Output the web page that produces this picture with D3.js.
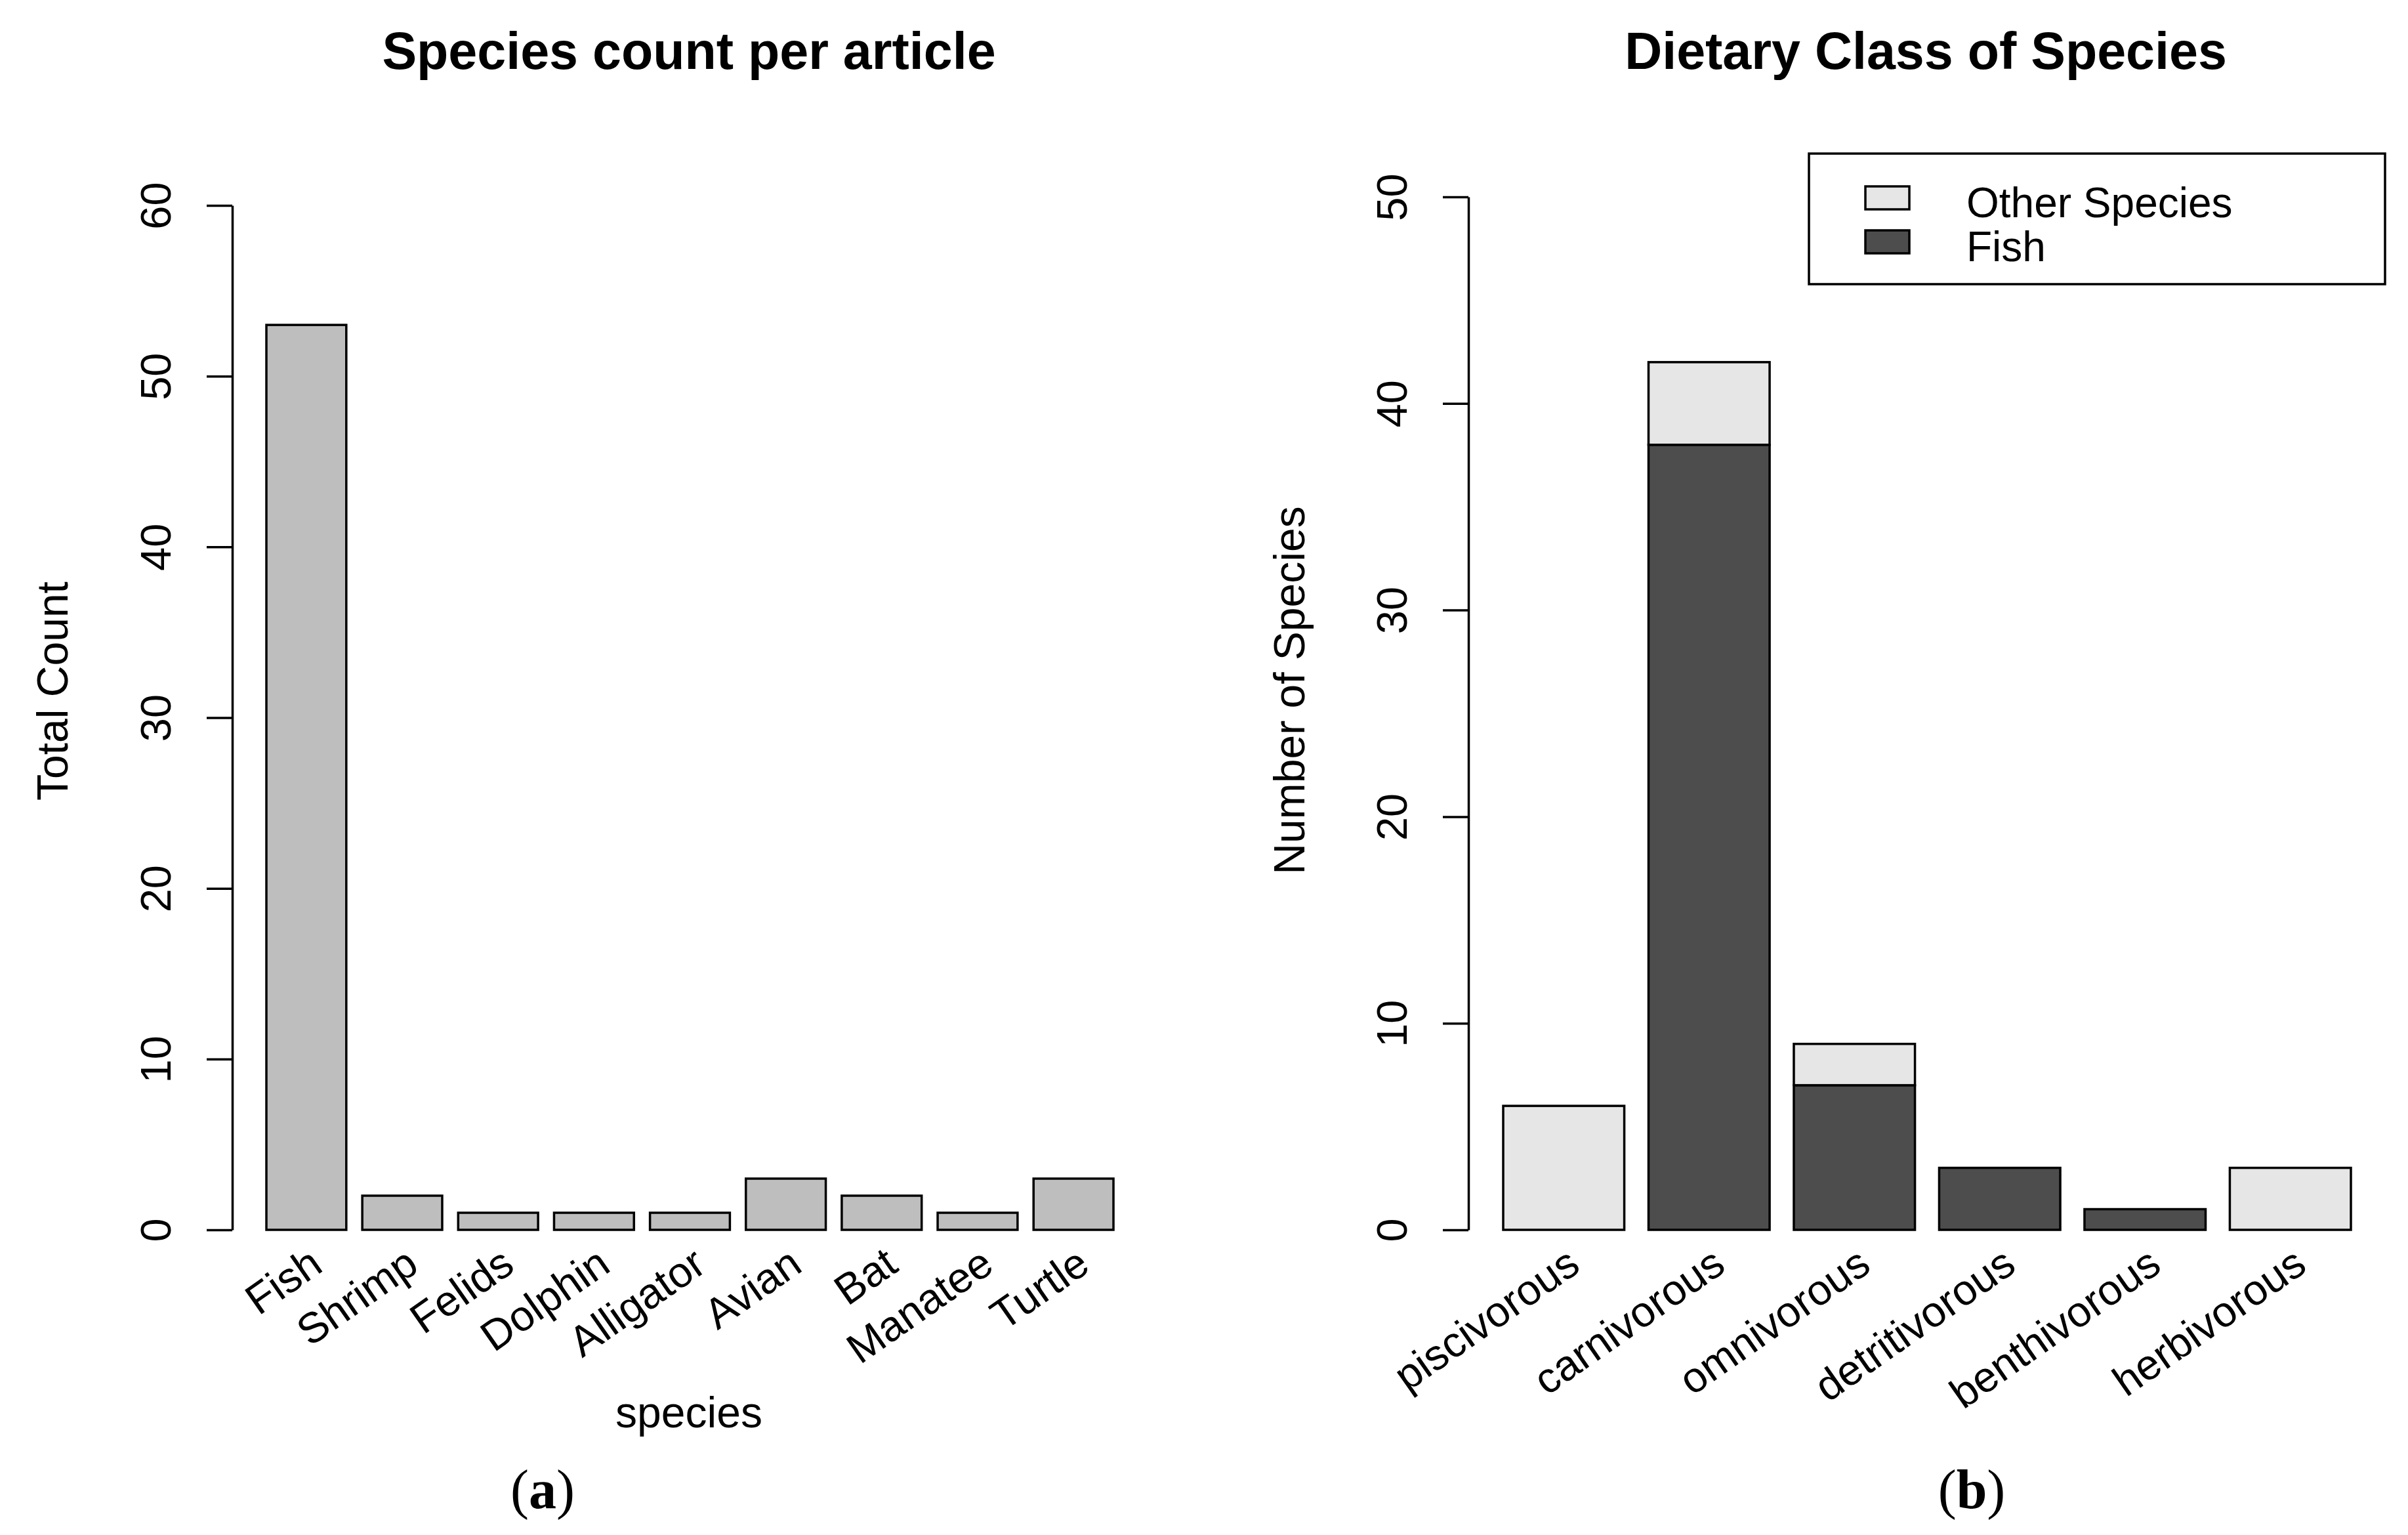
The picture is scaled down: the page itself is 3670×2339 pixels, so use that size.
<!DOCTYPE html>
<html>
<head>
<meta charset="utf-8">
<script src="https://cdn.jsdelivr.net/npm/d3@7"></script>
<style>
  body { margin: 0; background: #fff; }
  text { font-family: "Liberation Sans", Arial, sans-serif; fill: #000; }
  .serif { font-family: "Liberation Serif", "Times New Roman", serif; }
</style>
</head>
<body>
<div id="chart"></div>
<script>
// panel (a): species counted per article
var speciesNames = ["Fish", "Shrimp", "Felids", "Dolphin", "Alligator", "Avian", "Bat", "Manatee", "Turtle"];
var speciesCounts = [53, 2, 1, 1, 1, 3, 2, 1, 3];
var countTicks = [0, 10, 20, 30, 40, 50, 60];

// panel (b): dietary class, stacked fish / other species
var dietClasses = ["piscivorous", "carnivorous", "omnivorous", "detritivorous", "benthivorous", "herbivorous"];
var fishCounts = [0, 38, 7, 3, 1, 0];
var otherCounts = [6, 4, 2, 0, 0, 3];
var dietTicks = [0, 10, 20, 30, 40, 50];
var seriesKeys = ["Fish", "Other Species"];
var legendOrder = ["Other Species", "Fish"];

var W = 3670, H = 2339;
var fontSize = 65;
var lineW = 3.5;
var seriesFill = {"Fish": "#4D4D4D", "Other Species": "#E6E6E6"};

var svg = d3.select("#chart").append("svg")
    .attr("width", W)
    .attr("height", H)
    .attr("viewBox", "0 0 " + W + " " + H);

svg.append("rect").attr("width", W).attr("height", H).attr("fill", "#fff");

// R style y axis: line from first to last tick, labels turned parallel to axis
var drawYAxis = function(g, y, ticks) {
    g.call(d3.axisLeft(y).tickValues(ticks).tickSize(39).tickSizeOuter(0).tickFormat(d3.format("d")));
    g.select(".domain").attr("stroke", "#000").attr("stroke-width", lineW);
    g.selectAll(".tick line").attr("stroke", "#000").attr("stroke-width", lineW);
    g.selectAll(".tick text")
        .attr("x", null).attr("dy", null)
        .attr("fill", "#000")
        .attr("font-size", fontSize)
        .attr("font-family", "Liberation Sans, Arial, sans-serif")
        .attr("text-anchor", "middle")
        .attr("dominant-baseline", "central")
        .attr("transform", "translate(-117,0) rotate(-90)");
};

var drawXLabels = function(g, x, names) {
    g.selectAll("text.xlab")
        .data(names)
        .enter().append("text")
        .attr("class", "xlab")
        .attr("font-size", fontSize)
        .attr("text-anchor", "end")
        .attr("transform", function(d) {
            return "translate(" + (x(d) + x.bandwidth() / 2 + 28) + ",1935) rotate(-35)";
        })
        .text(function(d) { return d; });
};

var panelLabel = function(cx, letter) {
    var t = svg.append("text")
        .attr("class", "serif")
        .attr("x", cx)
        .attr("y", 2298)
        .attr("font-size", 84)
        .attr("text-anchor", "middle");
    t.append("tspan").text("(");
    t.append("tspan").attr("font-weight", "bold").text(letter);
    t.append("tspan").text(")");
};

// ---------- panel (a) ----------
var xA = d3.scaleBand().domain(speciesNames).range([406, 1697]).paddingInner(1 / 6).paddingOuter(0);
var yA = d3.scaleLinear().domain([0, 60]).range([1874, 313]);
var gA = svg.append("g");

gA.selectAll("rect.bar")
    .data(speciesNames)
    .enter().append("rect")
    .attr("class", "bar")
    .attr("x", function(d) { return xA(d); })
    .attr("width", xA.bandwidth())
    .attr("y", function(d, i) { return yA(speciesCounts[i]); })
    .attr("height", function(d, i) { return yA(0) - yA(speciesCounts[i]); })
    .attr("fill", "#BEBEBE")
    .attr("stroke", "#000")
    .attr("stroke-width", lineW);

drawYAxis(gA.append("g").attr("transform", "translate(354,0)"), yA, countTicks);
drawXLabels(gA, xA, speciesNames);

gA.append("text").attr("x", 1050).attr("y", 105)
    .attr("font-size", 79).attr("font-weight", "bold").attr("text-anchor", "middle")
    .text("Species count per article");
gA.append("text").attr("x", 1050).attr("y", 2175)
    .attr("font-size", 66).attr("text-anchor", "middle")
    .text("species");
gA.append("text")
    .attr("transform", "translate(80,1053) rotate(-90)")
    .attr("font-size", 66).attr("text-anchor", "middle").attr("dominant-baseline", "central")
    .text("Total Count");
panelLabel(827, "a");

// ---------- panel (b) ----------
var dietRows = dietClasses.map(function(c, i) {
    return {klass: c, "Fish": fishCounts[i], "Other Species": otherCounts[i]};
});
var stacked = d3.stack().keys(seriesKeys)(dietRows);

var xB = d3.scaleBand().domain(dietClasses).range([2291, 3583]).paddingInner(1 / 6).paddingOuter(0);
var yB = d3.scaleLinear().domain([0, 50]).range([1874, 300]);
var gB = svg.append("g");

gB.selectAll("g.layer")
    .data(stacked)
    .enter().append("g")
    .attr("class", "layer")
    .attr("fill", function(s) { return seriesFill[s.key]; })
    .selectAll("rect")
    .data(function(s) { return s.filter(function(p) { return p[1] > p[0]; }); })
    .enter().append("rect")
    .attr("x", function(p) { return xB(p.data.klass); })
    .attr("width", xB.bandwidth())
    .attr("y", function(p) { return yB(p[1]); })
    .attr("height", function(p) { return yB(p[0]) - yB(p[1]); })
    .attr("stroke", "#000")
    .attr("stroke-width", lineW);

drawYAxis(gB.append("g").attr("transform", "translate(2238,0)"), yB, dietTicks);
drawXLabels(gB, xB, dietClasses);

gB.append("text").attr("x", 2935).attr("y", 105)
    .attr("font-size", 79).attr("font-weight", "bold").attr("text-anchor", "middle")
    .text("Dietary Class of Species");
gB.append("text")
    .attr("transform", "translate(1965,1052) rotate(-90)")
    .attr("font-size", 66).attr("text-anchor", "middle").attr("dominant-baseline", "central")
    .text("Number of Species");
panelLabel(3005, "b");

// legend box, top right
var legend = gB.append("g");
legend.append("rect")
    .attr("x", 2757).attr("y", 234).attr("width", 878).attr("height", 199)
    .attr("fill", "#fff").attr("stroke", "#000").attr("stroke-width", lineW);
var items = legend.selectAll("g.item")
    .data(legendOrder)
    .enter().append("g")
    .attr("class", "item")
    .attr("transform", function(d, i) { return "translate(0," + (i * 67) + ")"; });
items.append("rect")
    .attr("x", 2843).attr("y", 284).attr("width", 67).attr("height", 35)
    .attr("fill", function(d) { return seriesFill[d]; })
    .attr("stroke", "#000").attr("stroke-width", lineW);
items.append("text")
    .attr("x", 2997).attr("y", 331)
    .attr("font-size", 64)
    .text(function(d) { return d; });
</script>
</body>
</html>
